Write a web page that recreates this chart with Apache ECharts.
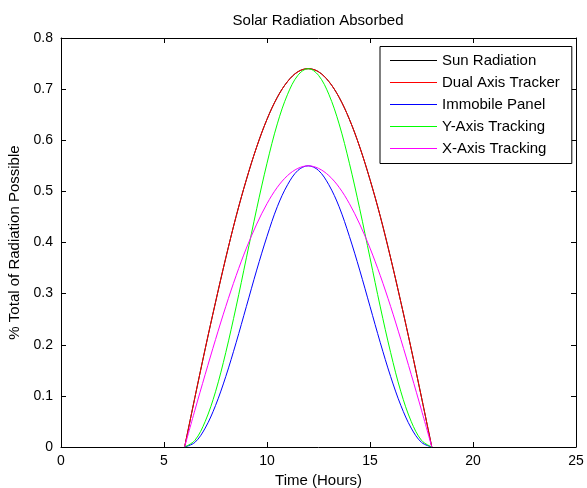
<!DOCTYPE html>
<html>
<head>
<meta charset="utf-8">
<script src="https://cdn.jsdelivr.net/npm/echarts@6/dist/echarts.min.js"></script>
<style>html,body{margin:0;padding:0;background:#fff}#c{width:587px;height:488px}</style>
</head>
<body>
<div id="c"></div>
<script>
// Time samples (hours)
var hours = [6, 6.5, 7, 7.5, 8, 8.5, 9, 9.5, 10, 10.5, 11, 11.5, 12, 12.5, 13, 13.5, 14, 14.5, 15, 15.5, 16, 16.5, 17, 17.5, 18];
// Values
var sunRadiation = [0, 0.097, 0.192, 0.283, 0.370, 0.451, 0.523, 0.587, 0.641, 0.684, 0.715, 0.734, 0.740, 0.734, 0.715, 0.684, 0.641, 0.587, 0.523, 0.451, 0.370, 0.283, 0.192, 0.097, 0];
var dualAxis = [0, 0.097, 0.192, 0.283, 0.370, 0.451, 0.523, 0.587, 0.641, 0.684, 0.715, 0.734, 0.740, 0.734, 0.715, 0.684, 0.641, 0.587, 0.523, 0.451, 0.370, 0.283, 0.192, 0.097, 0];
var immobile = [0, 0.009, 0.037, 0.081, 0.138, 0.204, 0.275, 0.346, 0.412, 0.470, 0.513, 0.541, 0.550, 0.541, 0.513, 0.470, 0.412, 0.346, 0.275, 0.204, 0.138, 0.081, 0.037, 0.009, 0];
var yAxisTracking = [0, 0.013, 0.050, 0.108, 0.185, 0.274, 0.370, 0.466, 0.555, 0.632, 0.690, 0.727, 0.740, 0.727, 0.690, 0.632, 0.555, 0.466, 0.370, 0.274, 0.185, 0.108, 0.050, 0.013, 0];
var xAxisTracking = [0, 0.072, 0.142, 0.210, 0.275, 0.335, 0.389, 0.436, 0.476, 0.508, 0.531, 0.545, 0.550, 0.545, 0.531, 0.508, 0.476, 0.436, 0.389, 0.335, 0.275, 0.210, 0.142, 0.072, 0];
var seriesNames = ['Sun Radiation', 'Dual Axis Tracker', 'Immobile Panel', 'Y-Axis Tracking', 'X-Axis Tracking'];
var seriesValues = [sunRadiation, dualAxis, immobile, yAxisTracking, xAxisTracking];
var seriesColors = ['#000000', '#ff0000', '#0000ff', '#00ff00', '#ff00ff'];

function pairs(vals) { return hours.map(function (h, i) { return [h, vals[i]]; }); }

var FONT = 'Liberation Sans, Arial, sans-serif';
var chart = echarts.init(document.getElementById('c'), null, { renderer: 'canvas' });
function axisCommon() {
  return {
    axisLine: { show: true, onZero: false, lineStyle: { color: '#000', width: 1 } },
    axisTick: { show: true, inside: true, length: 5, lineStyle: { color: '#000' } },
    splitLine: { show: false }
  };
}
chart.setOption({
  animation: false,
  backgroundColor: '#fff',
  title: {
    text: 'Solar Radiation Absorbed',
    left: 313, top: 8, textAlign: 'center',
    textStyle: { fontFamily: FONT, fontSize: 15, fontWeight: 'normal', color: '#000' }
  },
  grid: { left: 61, right: 11, top: 38, bottom: 41, containLabel: false, outerBoundsMode: 'none' },
  legend: {
    orient: 'vertical', left: 380, top: 46.5,
    data: seriesNames.map(function (n, i) {
      return { name: n, itemStyle: { color: seriesColors[i] } };
    }),
    icon: 'rect', itemWidth: 47, itemHeight: 1, itemGap: 7,
    padding: [6.5, 12, 7.5, 10],
    borderColor: '#000', borderWidth: 1, backgroundColor: '#fff',
    textStyle: { fontFamily: FONT, fontSize: 15, color: '#000', lineHeight: 15 }
  },
  xAxis: [
    Object.assign({
      type: 'value', min: 0, max: 25, interval: 5, position: 'bottom',
      name: 'Time (Hours)', nameLocation: 'middle', nameGap: 26,
      nameTextStyle: { fontFamily: FONT, fontSize: 15, color: '#000' },
      axisLabel: { fontFamily: FONT, fontSize: 14, color: '#000', margin: 7 }
    }, axisCommon()),
    Object.assign({
      type: 'value', min: 0, max: 25, interval: 5, position: 'top',
      axisLabel: { show: false }
    }, axisCommon())
  ],
  yAxis: [
    Object.assign({
      type: 'value', min: 0, max: 0.8, interval: 0.1, position: 'left',
      name: '% Total of Radiation Possible', nameLocation: 'middle', nameGap: 30, nameRotate: 90,
      nameTextStyle: { fontFamily: FONT, fontSize: 15, color: '#000' },
      axisLabel: { fontFamily: FONT, fontSize: 14, color: '#000', margin: 8 }
    }, axisCommon()),
    Object.assign({
      type: 'value', min: 0, max: 0.8, interval: 0.1, position: 'right',
      axisLabel: { show: false }
    }, axisCommon())
  ],
  series: seriesNames.map(function (n, i) {
    return {
      name: n, type: 'line', xAxisIndex: 0, yAxisIndex: 0,
      data: pairs(seriesValues[i]),
      showSymbol: false, symbol: 'none', smooth: 0.35,
      lineStyle: { color: seriesColors[i], width: 1 },
      itemStyle: { color: seriesColors[i] }
    };
  })
});
</script>
</body>
</html>
